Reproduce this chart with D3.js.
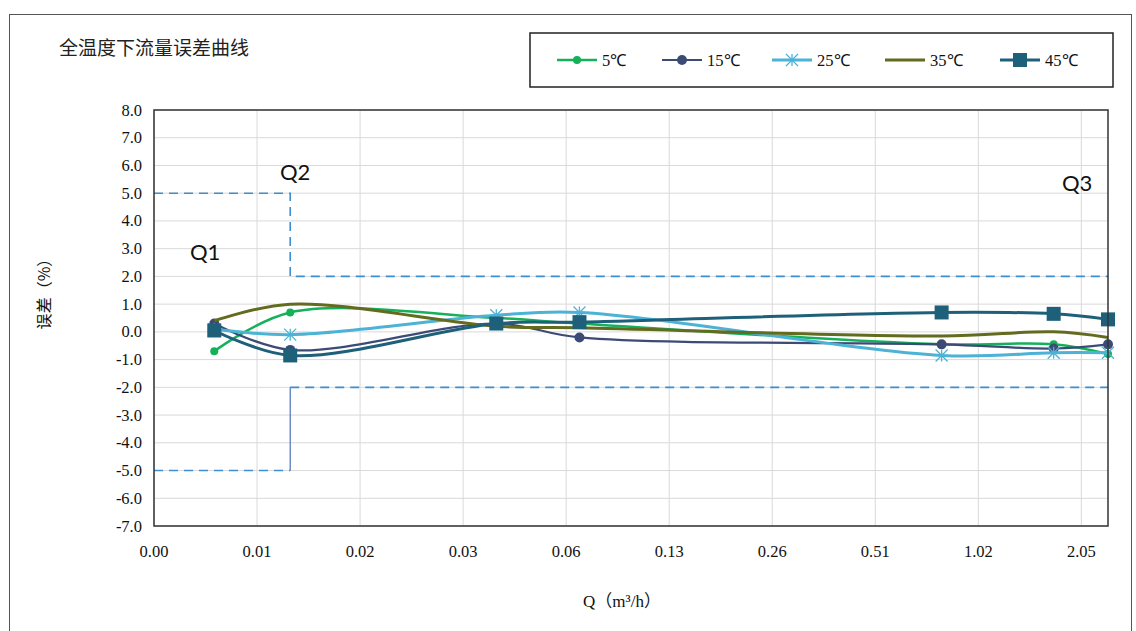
<!DOCTYPE html>
<html lang="zh">
<head>
<meta charset="UTF-8">
<title>全温度下流量误差曲线</title>
<script src="https://cdn.jsdelivr.net/npm/d3@7"></script>
<style>
  body { margin: 0; background: #fff; }
  svg { display: block; }
</style>
</head>
<body>
<script>
// flow points (m3/h) and error (%) per temperature
var flows = [0.006, 0.01, 0.04, 0.07, 0.8, 1.7, 2.45];
var err5  = [-0.7, 0.7, 0.5, 0.3, -0.45, -0.45, -0.8];
var err15 = [0.3, -0.65, 0.3, -0.2, -0.45, -0.6, -0.45];
var err25 = [0.1, -0.1, 0.6, 0.7, -0.85, -0.75, -0.75];
var err35 = [0.4, 1.0, 0.2, 0.15, -0.15, 0.0, -0.2];
var err45 = [0.05, -0.85, 0.3, 0.35, 0.7, 0.65, 0.45];

var seriesNames = ["5℃", "15℃", "25℃", "35℃", "45℃"];
var xTicks = [0.004, 0.008, 0.016, 0.032, 0.064, 0.128, 0.256, 0.512, 1.024, 2.048];
var yTicks = [-7, -6, -5, -4, -3, -2, -1, 0, 1, 2, 3, 4, 5, 6, 7, 8];

// limit lines: Q1..Q2 = ±5, Q2..Q3 = ±2
var qStart = 0.004, q2 = 0.01, q3 = 2.45;
var upperLimit = [[qStart, 5], [q2, 5], [q2, 2], [q3, 2]];
var lowerLow = [[qStart, -5], [q2, -5]];
var lowerStep = [[q2, -5], [q2, -2]];
var lowerHigh = [[q2, -2], [q3, -2]];

var width = 1136, height = 631;
var pLeft = 154, pRight = 1108, pTop = 110, pBottom = 526;

var svg = d3.select("body").append("svg")
  .attr("width", width).attr("height", height);

// outer chart frame
svg.append("rect")
  .attr("x", 9.5).attr("y", 14.5)
  .attr("width", 1122).attr("height", 640)
  .attr("fill", "none").attr("stroke", "#555").attr("stroke-width", 1);

var x = d3.scaleLog().base(2).domain([qStart, q3]).range([pLeft, pRight]);
var y = d3.scaleLinear().domain([-7, 8]).range([pBottom, pTop]);

// grid
svg.append("g").selectAll("line").data(yTicks).enter().append("line")
  .attr("x1", pLeft).attr("x2", pRight)
  .attr("y1", function(d) { return y(d); }).attr("y2", function(d) { return y(d); })
  .attr("stroke", "#d9d9d9").attr("stroke-width", 1);
svg.append("g").selectAll("line").data(xTicks).enter().append("line")
  .attr("x1", function(d) { return x(d); }).attr("x2", function(d) { return x(d); })
  .attr("y1", pTop).attr("y2", pBottom)
  .attr("stroke", "#d9d9d9").attr("stroke-width", 1);

// tick labels
svg.append("g").selectAll("text").data(yTicks).enter().append("text")
  .attr("x", 142).attr("y", function(d) { return y(d) + 5.5; })
  .attr("text-anchor", "end")
  .style("font-family", "Liberation Serif, serif").style("font-size", "16.5px")
  .attr("fill", "#111")
  .text(function(d) { return d.toFixed(1); });

svg.append("g").selectAll("text").data(xTicks).enter().append("text")
  .attr("x", function(d) { return x(d); }).attr("y", 557)
  .attr("text-anchor", "middle")
  .style("font-family", "Liberation Serif, serif").style("font-size", "16.5px")
  .attr("fill", "#111")
  .text(function(d) { return d.toFixed(2); });

// axis titles
svg.append("text")
  .attr("transform", "translate(50,290) rotate(-90)")
  .attr("text-anchor", "middle")
  .style("font-family", "Noto Sans CJK SC, sans-serif").style("font-size", "16px")
  .attr("fill", "#111")
  .text("误差（%）");

svg.append("text")
  .attr("x", 622).attr("y", 607)
  .attr("text-anchor", "middle")
  .style("font-family", "Liberation Serif, Noto Sans CJK SC, serif").style("font-size", "17px")
  .attr("fill", "#111")
  .text("Q（m³/h）");

// chart title
svg.append("text")
  .attr("x", 59).attr("y", 55)
  .style("font-family", "Noto Sans CJK SC, sans-serif").style("font-size", "19px")
  .attr("fill", "#222")
  .text("全温度下流量误差曲线");

// limit lines
var lim = d3.line().x(function(d) { return x(d[0]); }).y(function(d) { return y(d[1]); });
[upperLimit, lowerLow, lowerHigh].forEach(function(p) {
  svg.append("path").attr("d", lim(p))
    .attr("fill", "none").attr("stroke", "#3e8ed0")
    .attr("stroke-width", 1.6).attr("stroke-dasharray", "9,6");
});
svg.append("path").attr("d", lim(lowerStep))
  .attr("fill", "none").attr("stroke", "#4a72b8").attr("stroke-width", 1.2);

// Q labels
var qLabels = [["Q1", 190, 260], ["Q2", 280, 180], ["Q3", 1062, 191]];
svg.append("g").selectAll("text").data(qLabels).enter().append("text")
  .attr("x", function(d) { return d[1]; }).attr("y", function(d) { return d[2]; })
  .style("font-family", "Lato, Open Sans, sans-serif").style("font-size", "22px")
  .attr("fill", "#111")
  .text(function(d) { return d[0]; });

// series
var colors = ["#14b15a", "#3c4a76", "#4cb3d6", "#636b1e", "#1e6079"];
var widths = [2.5, 2.2, 3, 3, 3];
var markers = ["circle", "dot", "star", "none", "square"];
var allErr = [err5, err15, err25, err35, err45];

var line = d3.line()
  .x(function(d) { return x(d[0]); })
  .y(function(d) { return y(d[1]); })
  .curve(d3.curveCatmullRom.alpha(0.5));

function drawMarker(g, type, cx, cy, color) {
  if (type == "circle") {
    g.append("circle").attr("cx", cx).attr("cy", cy).attr("r", 4).attr("fill", color);
  } else if (type == "dot") {
    g.append("circle").attr("cx", cx).attr("cy", cy).attr("r", 5).attr("fill", color);
  } else if (type == "square") {
    g.append("rect").attr("x", cx - 7).attr("y", cy - 7).attr("width", 14).attr("height", 14)
      .attr("fill", color);
  } else if (type == "star") {
    var r = 6;
    g.append("path")
      .attr("d", "M" + (cx - r) + "," + (cy - r) + "L" + (cx + r) + "," + (cy + r) +
                 "M" + (cx - r) + "," + (cy + r) + "L" + (cx + r) + "," + (cy - r) +
                 "M" + cx + "," + (cy - r) + "L" + cx + "," + (cy + r))
      .attr("stroke", color).attr("stroke-width", 1.3).attr("fill", "none");
  }
}

var plot = svg.append("g");
allErr.forEach(function(vals, i) {
  var pts = flows.map(function(f, j) { return [f, vals[j]]; });
  var g = plot.append("g");
  g.append("path").attr("d", line(pts))
    .attr("fill", "none").attr("stroke", colors[i]).attr("stroke-width", widths[i]);
  pts.forEach(function(p) { drawMarker(g, markers[i], x(p[0]), y(p[1]), colors[i]); });
});

// plot border
svg.append("rect")
  .attr("x", pLeft).attr("y", pTop)
  .attr("width", pRight - pLeft).attr("height", pBottom - pTop)
  .attr("fill", "none").attr("stroke", "#333").attr("stroke-width", 1.5);

// legend
svg.append("rect")
  .attr("x", 530).attr("y", 33).attr("width", 583).attr("height", 54)
  .attr("fill", "#fff").attr("stroke", "#222").attr("stroke-width", 1.5);

var legX = [557, 662, 772, 885, 1000];
var leg = svg.append("g").selectAll("g").data(seriesNames).enter().append("g");
leg.each(function(name, i) {
  var g = d3.select(this);
  g.append("line")
    .attr("x1", legX[i]).attr("x2", legX[i] + 40)
    .attr("y1", 60).attr("y2", 60)
    .attr("stroke", colors[i]).attr("stroke-width", widths[i]);
  drawMarker(g, markers[i], legX[i] + 20, 60, colors[i]);
  g.append("text")
    .attr("x", legX[i] + 45).attr("y", 66)
    .style("font-family", "Liberation Serif, serif").style("font-size", "16.5px")
    .attr("fill", "#111")
    .text(name);
});
</script>
</body>
</html>
